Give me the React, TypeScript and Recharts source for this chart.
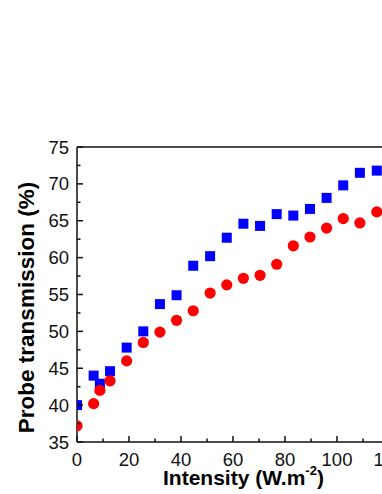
import React from 'react';
import { ScatterChart, Scatter, XAxis, YAxis } from 'recharts';

const intensity = [0, 6.4, 8.8, 12.7, 19.1, 25.5, 31.9, 38.3, 44.7, 51.2, 57.6, 64, 70.4, 76.8, 83.2, 89.6, 96, 102.4, 108.8, 115.3];
const blueValues = [40.0, 44.0, 42.9, 44.6, 47.8, 50.0, 53.7, 54.9, 58.9, 60.2, 62.7, 64.6, 64.3, 65.9, 65.7, 66.6, 68.1, 69.8, 71.5, 71.8];
const redValues = [37.2, 40.2, 42.0, 43.3, 46.0, 48.5, 49.9, 51.5, 52.8, 55.2, 56.3, 57.2, 57.6, 59.1, 61.6, 62.8, 64.0, 65.3, 64.7, 66.2];
const xTicks = [0, 10, 20, 30, 40, 50, 60, 70, 80, 90, 100, 110, 120];
const xMajor = [0, 20, 40, 60, 80, 100, 120];
const yTicks = [35, 37.5, 40, 42.5, 45, 47.5, 50, 52.5, 55, 57.5, 60, 62.5, 65, 67.5, 70, 72.5, 75];
const yMajor = [35, 40, 45, 50, 55, 60, 65, 70, 75];

const blueData = intensity.map((x, i) => ({ x, y: blueValues[i] }));
const redData = intensity.map((x, i) => ({ x, y: redValues[i] }));

const FONT = '"Liberation Sans", Arial, sans-serif';
const AX = '#111';
const SW = 1.5;
const MAJ = 6;
const MIN = 3.5;
const TICK_FS = 18.5;

const XTickBottom = (props: any) => {
  const { x, y, payload } = props;
  const major = xMajor.includes(payload.value);
  return (
    <g>
      <line x1={x} y1={y} x2={x} y2={y - (major ? MAJ : MIN)} stroke={AX} strokeWidth={SW} />
      {major && (
        <text x={x} y={y + 23.5} textAnchor="middle" fontSize={TICK_FS} fontFamily={FONT} fill="#111">
          {payload.value}
        </text>
      )}
    </g>
  );
};

const XTickTop = (props: any) => {
  const { x, y, payload } = props;
  const major = xMajor.includes(payload.value);
  return <line x1={x} y1={y} x2={x} y2={y + (major ? MAJ : MIN)} stroke={AX} strokeWidth={SW} />;
};

const YTickLeft = (props: any) => {
  const { x, y, payload } = props;
  const major = yMajor.includes(payload.value);
  return (
    <g>
      <line x1={x} y1={y} x2={x + (major ? MAJ : MIN)} y2={y} stroke={AX} strokeWidth={SW} />
      {major && (
        <text x={x - 8} y={y + 6.5} textAnchor="end" fontSize={TICK_FS} fontFamily={FONT} fill="#111">
          {payload.value}
        </text>
      )}
    </g>
  );
};

const YTickRight = (props: any) => {
  const { x, y, payload } = props;
  const major = yMajor.includes(payload.value);
  return <line x1={x} y1={y} x2={x - (major ? MAJ : MIN)} y2={y} stroke={AX} strokeWidth={SW} />;
};

const XLabel = (props: any) => {
  const vb = props.viewBox || {};
  return (
    <text x={vb.x + 86} y={vb.y + 43} fontSize={21} fontWeight="bold" fontFamily={FONT} fill="#000">
      <tspan>Intensity (W.m</tspan>
      <tspan fontSize={13} dy={-10}>-2</tspan>
      <tspan dy={10}>)</tspan>
    </text>
  );
};

const YLabel = (props: any) => {
  const vb = props.viewBox || {};
  const cx = 34;
  const cy = vb.y + vb.height / 2 + 13;
  return (
    <text
      x={cx}
      y={cy}
      transform={`rotate(-90, ${cx}, ${cy})`}
      textAnchor="middle"
      fontSize={22.5}
      fontWeight="bold"
      fontFamily={FONT}
      fill="#000"
    >
      Probe transmission (%)
    </text>
  );
};

const Square = (props: any) => {
  const { cx, cy } = props;
  return <rect x={cx - 5} y={cy - 5} width={10} height={10} fill="#0000FF" />;
};

const Dot = (props: any) => {
  const { cx, cy } = props;
  return <circle cx={cx} cy={cy} r={5.6} fill="#FF0000" />;
};

export default function App() {
  return (
    <div style={{ position: 'fixed', left: 0, top: 0, width: 382, height: 494, overflow: 'hidden', background: '#fff' }}>
      <ScatterChart width={420} height={494} margin={{ top: 146, right: 30, bottom: 0, left: 0 }}>
        <XAxis
          xAxisId="b"
          type="number"
          dataKey="x"
          domain={[0, 120]}
          ticks={xTicks}
          interval={0}
          allowDataOverflow
          orientation="bottom"
          height={52}
          tickSize={0}
          tickMargin={0}
          tickLine={false}
          axisLine={{ stroke: AX, strokeWidth: SW }}
          tick={<XTickBottom />}
          label={<XLabel />}
        />
        <XAxis
          xAxisId="t"
          type="number"
          dataKey="x"
          domain={[0, 120]}
          ticks={xTicks}
          interval={0}
          orientation="top"
          height={1}
          tickSize={0}
          tickMargin={0}
          tickLine={false}
          axisLine={{ stroke: AX, strokeWidth: SW }}
          tick={<XTickTop />}
        />
        <YAxis
          yAxisId="l"
          type="number"
          dataKey="y"
          domain={[35, 75]}
          ticks={yTicks}
          interval={0}
          allowDataOverflow
          orientation="left"
          width={77}
          tickSize={0}
          tickMargin={0}
          tickLine={false}
          axisLine={{ stroke: AX, strokeWidth: SW }}
          tick={<YTickLeft />}
          label={<YLabel />}
        />
        <YAxis
          yAxisId="r"
          type="number"
          dataKey="y"
          domain={[35, 75]}
          ticks={yTicks}
          interval={0}
          orientation="right"
          width={1}
          tickSize={0}
          tickMargin={0}
          tickLine={false}
          axisLine={{ stroke: AX, strokeWidth: SW }}
          tick={<YTickRight />}
        />
        <Scatter data={blueData} xAxisId="b" yAxisId="l" shape={<Square />} isAnimationActive={false} />
        <Scatter data={redData} xAxisId="b" yAxisId="l" shape={<Dot />} isAnimationActive={false} />
      </ScatterChart>
    </div>
  );
}
